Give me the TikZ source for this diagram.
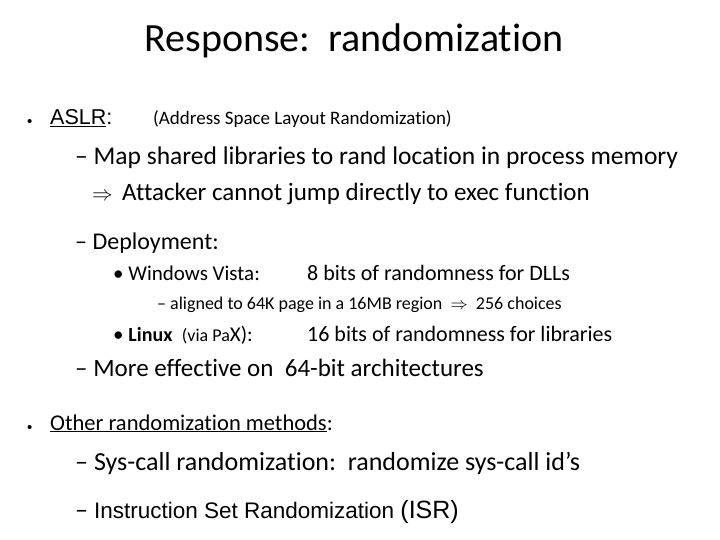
\documentclass[tikz,border=0pt]{standalone}
\usepackage{fontspec}
\setmainfont[Ligatures=NoCommon]{Carlito}
\newfontfamily\arialf{Liberation Sans}
\begin{document}
\begin{tikzpicture}[x=1pt,y=-1pt,txt/.style={anchor=base west,inner sep=0pt}]
\useasboundingbox (0,0) rectangle (720,540);
\node[anchor=base,inner sep=0pt,font=\fontsize{40}{44}\selectfont] (title) at (354,52) {Response:\ \ randomization};
\node[txt,font=\arialf\fontsize{15}{20}\selectfont] (b1) at (27,127) {•};
\node[txt,font=\arialf\fontsize{21.5}{24}\selectfont] (aslr) at (50,125) {\underline{ASLR}:};
\node[txt,font=\fontsize{19}{22}\selectfont] (aslrx) at (153,125) {(Address Space Layout Randomization)};
\node[txt,font=\fontsize{25.5}{28}\selectfont] (m1) at (75,165) {– Map shared libraries to rand location in process memory};
\node[txt,font=\fontsize{22}{26}\selectfont] (imp) at (92,201) {$\Rightarrow$};
\node[txt,font=\fontsize{25}{28}\selectfont] (att) at (122,201) {Attacker cannot jump directly to exec function};
\node[txt,font=\fontsize{24}{28}\selectfont] (dep) at (75,249) {– Deployment:};
\node[txt,font=\fontsize{21}{24}\selectfont] (win) at (113,280) {• Windows Vista:};
\node[txt,font=\fontsize{22}{24}\selectfont] (win2) at (307,280) {8 bits of randomness for DLLs};
\node[txt,font=\fontsize{18}{20}\selectfont] (al) at (157,309) {– aligned to 64K page in a 16MB region\ \ $\Rightarrow$\ \ 256 choices};
\node[txt,font=\fontsize{21}{24}\selectfont] (lin) at (113,341) {• \textbf{\fontsize{20}{24}\selectfont Linux}\ \ {\fontsize{18}{20}\selectfont(via Pa}X):};
\node[txt,font=\fontsize{22}{24}\selectfont] (lin2) at (307,341) {16 bits of randomness for libraries};
\node[txt,font=\fontsize{25}{28}\selectfont] (more) at (75,376) {– More effective on\ \ 64-bit architectures};
\node[txt,font=\arialf\fontsize{15}{20}\selectfont] (b2) at (27,432) {•};
\node[txt,font=\fontsize{22.5}{24}\selectfont] (oth) at (50,430) {\underline{Other randomization methods}:};
\node[txt,font=\fontsize{26}{28}\selectfont] (sys) at (75,470) {– Sys-call randomization:\ \ randomize sys-call id’s};
\node[txt,font=\fontsize{26}{28}\selectfont] (isr) at (75,518) {– {\arialf\fontsize{22.5}{24}\selectfont Instruction Set Randomization }{\arialf\fontsize{25}{26}\selectfont(ISR)}};
\end{tikzpicture}
\end{document}
